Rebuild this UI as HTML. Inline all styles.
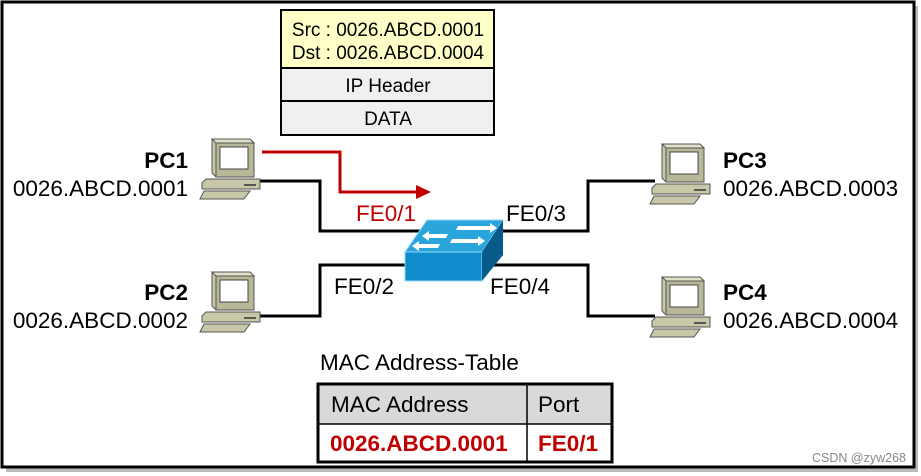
<!DOCTYPE html>
<html><head><meta charset="utf-8"><style>
html,body{margin:0;padding:0;background:#fff;}
svg{display:block;font-family:"Liberation Sans",Arial,sans-serif;}
</style></head><body>
<svg width="921" height="476" viewBox="0 0 921 476" xmlns="http://www.w3.org/2000/svg">
<defs>
<g id="pc">
  <polygon points="12,2 50,2 54,6 54,40 16,40 12,36" fill="#c8c8a8" stroke="#555" stroke-width="1"/>
  <polygon points="12,2 50,2 54,6 16,6" fill="#e0e0c8" stroke="#555" stroke-width="1"/>
  <rect x="16" y="6" width="38" height="34" fill="#b8b898" stroke="#555" stroke-width="1"/>
  <rect x="20" y="10" width="28" height="22" fill="#fff" stroke="#444" stroke-width="1"/>
  <polygon points="6,42 60,42 60,52 2,52 2,46" fill="#c8c8a8" stroke="#555" stroke-width="1"/>
  <line x1="44" y1="48" x2="56" y2="48" stroke="#333" stroke-width="1.5"/>
  <polygon points="4,54 50,54 44,62 0,62" fill="#c8c8a8" stroke="#555" stroke-width="1"/>
</g>
</defs>
<rect x="0" y="0" width="921" height="476" fill="#fff"/>
<rect x="6" y="6" width="912" height="466" fill="#bbb"/>
<rect x="2" y="2" width="912" height="465" fill="#fff" stroke="#000" stroke-width="3"/>

<rect x="281" y="10" width="213" height="58" fill="#ffffc8" stroke="#000" stroke-width="2"/>
<rect x="281" y="68" width="213" height="33" fill="#f0f0f0" stroke="#000" stroke-width="2"/>
<rect x="281" y="101" width="213" height="34" fill="#f0f0f0" stroke="#000" stroke-width="2"/>
<g font-size="19">
<text x="388" y="36" text-anchor="middle">Src : 0026.ABCD.0001</text>
<text x="388" y="59" text-anchor="middle">Dst : 0026.ABCD.0004</text>
<text x="388" y="92" text-anchor="middle">IP Header</text>
<text x="388" y="125" text-anchor="middle">DATA</text>
</g>

<g fill="none" stroke="#000" stroke-width="3">
<polyline points="258,181 320,181 320,231 420,231"/>
<polyline points="490,231 588,231 588,181 655,181"/>
<polyline points="410,265 320,265 320,316 258,316"/>
<polyline points="480,265 588,265 588,316 655,316"/>
</g>
<polyline points="262,152 340,152 340,192 418,192" fill="none" stroke="#c00000" stroke-width="3"/>
<polygon points="416,185 431,192 416,199" fill="#c00000"/>

<polygon points="427,220 503,220 482,252 405,252" fill="#2aa5dc" stroke="#8fd8f8" stroke-width="1"/>
<polygon points="405,252 482,252 482,281 405,281" fill="#0e8ccc" stroke="#8fd8f8" stroke-width="1"/>
<polygon points="482,252 503,220 503,255 482,281" fill="#075b8a"/>
<g fill="#fff">
<polygon points="458,226 490,226 490,223 497,228 490,233 490,230 456,230"/>
<polygon points="448,234 429,234 429,231 422,236 429,241 429,238 446,238"/>
<polygon points="452,239 478,239 478,236 485,241 478,246 478,243 450,243"/>
<polygon points="440,244 419,244 419,241 412,246 419,251 419,248 438,248"/>
</g>

<use href="#pc" x="200" y="137"/>
<use href="#pc" x="200" y="270"/>
<use href="#pc" x="650" y="142"/>
<use href="#pc" x="650" y="275"/>

<g font-size="22.5">
<text x="188" y="168" text-anchor="end" font-weight="bold">PC1</text>
<text x="188" y="196" text-anchor="end">0026.ABCD.0001</text>
<text x="188" y="300" text-anchor="end" font-weight="bold">PC2</text>
<text x="188" y="328" text-anchor="end">0026.ABCD.0002</text>
<text x="723" y="168" font-weight="bold">PC3</text>
<text x="723" y="196">0026.ABCD.0003</text>
<text x="723" y="300" font-weight="bold">PC4</text>
<text x="723" y="328">0026.ABCD.0004</text>
<text x="356" y="221" fill="#c00000">FE0/1</text>
<text x="506" y="221">FE0/3</text>
<text x="334" y="294">FE0/2</text>
<text x="490" y="294">FE0/4</text>
<text x="320" y="370">MAC Address-Table</text>
</g>

<rect x="318" y="384" width="294" height="40" fill="#d9d9d9"/>
<rect x="318" y="384" width="294" height="78" fill="none" stroke="#000" stroke-width="3"/>
<line x1="318" y1="424" x2="612" y2="424" stroke="#000" stroke-width="1.5"/>
<line x1="527" y1="384" x2="527" y2="462" stroke="#000" stroke-width="1.5"/>
<g font-size="22.5">
<text x="331" y="412">MAC Address</text>
<text x="538" y="412">Port</text>
<text x="330" y="451" font-weight="bold" fill="#c00000">0026.ABCD.0001</text>
<text x="538" y="451" font-weight="bold" fill="#c00000">FE0/1</text>
</g>
<text x="906" y="462" font-size="12.5" fill="#888" text-anchor="end">CSDN @zyw268</text>
</svg>
</body></html>
